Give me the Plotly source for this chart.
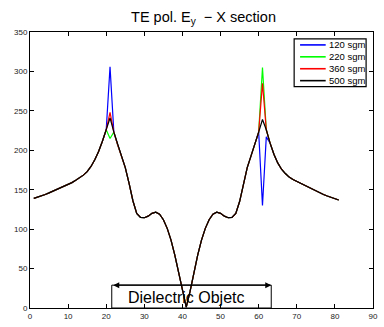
import plotly.graph_objects as go

# Sample positions along the X section
x_pos = list(range(1, 82))

# Field magnitude shared by all meshes away from the dielectric edges
field_common = [
    139, 140.5, 142, 144, 146, 148, 150, 152, 154, 156.5,
    159, 162, 165, 168.5, 173, 179.5, 188, 198.5, 211.5, 226,
    241,
    223, 207, 193, 178, 158, 136, 120, 115, 114.5,
    116.5, 120, 121.5, 119, 112, 101, 86, 67, 45, 21,
    1,
    21, 45, 67, 86, 101, 112, 119, 121.5, 120,
    116.5, 114.5, 115, 120, 135, 157, 178, 193, 207, 223,
    239,
    226, 209, 195, 184, 176, 170.5, 166, 163, 160.5,
    158, 155.5, 153, 150.5, 148, 146, 144, 142, 140, 138.5,
    137,
]

# Values at the dielectric edges (x = 21, 61, 62) for each mesh density
series_names = ["120 sgm", "220 sgm", "360 sgm", "500 sgm"]
series_colors = ["#0000ff", "#00ff00", "#ff0000", "#000000"]
edge_left = [306, 215, 248, 241]        # x = 21
edge_right = [130, 305, 285, 239]       # x = 61
edge_right_next = [217, 226, 226, 226]  # x = 62

# Extent of the dielectric object
obj_start, obj_end, obj_height = 21.45, 63.3, 29

# Plot-area geometry in pixels (used for the boxed legend)
W, H = 384, 327
M_L, M_R, M_T, M_B = 30, 6, 32, 17
PW, PH = W - M_L - M_R, H - M_T - M_B


def px_x(px):
    return (px - M_L) / PW


def px_y(py):
    return (H - M_B - py) / PH


fig = go.Figure()
for name, color, v21, v61, v62 in zip(series_names, series_colors,
                                      edge_left, edge_right, edge_right_next):
    y = list(field_common)
    y[x_pos.index(21)] = v21
    y[x_pos.index(61)] = v61
    y[x_pos.index(62)] = v62
    fig.add_trace(go.Scatter(x=x_pos, y=y, mode="lines", name=name,
                             showlegend=False,
                             line=dict(color=color, width=1.2)))

# Object outline and double-headed arrow marking its width
fig.add_shape(type="rect", xref="x", yref="y", x0=obj_start, x1=obj_end,
              y0=0, y1=obj_height, line=dict(color="black", width=1))
fig.add_annotation(x=obj_end, y=obj_height, ax=obj_start, ay=obj_height,
                   xref="x", yref="y", axref="x", ayref="y", text="",
                   showarrow=True, arrowside="end+start", arrowhead=2,
                   arrowsize=1, arrowwidth=1.2, arrowcolor="black")
fig.add_annotation(x=(obj_start + obj_end) / 2 - 1.5, y=13, xref="x", yref="y",
                   text="Dielectric Objetc", showarrow=False,
                   font=dict(size=16, color="black"))

# Compact boxed legend in the upper right corner
leg_left, leg_right, leg_top, leg_bottom = 298, 371, 39, 87
fig.add_shape(type="rect", xref="paper", yref="paper",
              x0=px_x(leg_left), x1=px_x(leg_right),
              y0=px_y(leg_bottom), y1=px_y(leg_top),
              line=dict(color="black", width=1.2), fillcolor="white", layer="above")
row_h = (leg_bottom - leg_top) / 4
for i, (name, color) in enumerate(zip(series_names, series_colors)):
    cy = leg_top + row_h * (i + 0.5)
    fig.add_shape(type="line", xref="paper", yref="paper",
                  x0=px_x(304), x1=px_x(330), y0=px_y(cy), y1=px_y(cy),
                  line=dict(color=color, width=1.6), layer="above")
    fig.add_annotation(x=px_x(331), y=px_y(cy), xref="paper", yref="paper",
                       text=name, showarrow=False, xanchor="left",
                       yanchor="middle", font=dict(size=9.5, color="black"))

axis_common = dict(showline=True, linecolor="black", linewidth=1, mirror="ticks",
                   ticks="inside", ticklen=4, tickcolor="black", showgrid=False,
                   zeroline=False, tickfont=dict(size=8, color="#222"))

fig.update_layout(
    width=W, height=H,
    margin=dict(l=M_L, r=M_R, t=M_T, b=M_B),
    paper_bgcolor="white", plot_bgcolor="white",
    font=dict(family="Liberation Sans, Arial, sans-serif", color="black"),
    title=dict(text="TE pol. E<sub>y</sub>  \u2212 X section", x=0.53, xanchor="center",
               y=1 - 17 / H, yanchor="middle", yref="container",
               font=dict(size=14.5)),
    xaxis=dict(range=[0, 90], dtick=10, tick0=0, **axis_common),
    yaxis=dict(range=[0, 350], dtick=50, tick0=0, **axis_common),
    showlegend=False,
)

fig.write_html("out.html")
